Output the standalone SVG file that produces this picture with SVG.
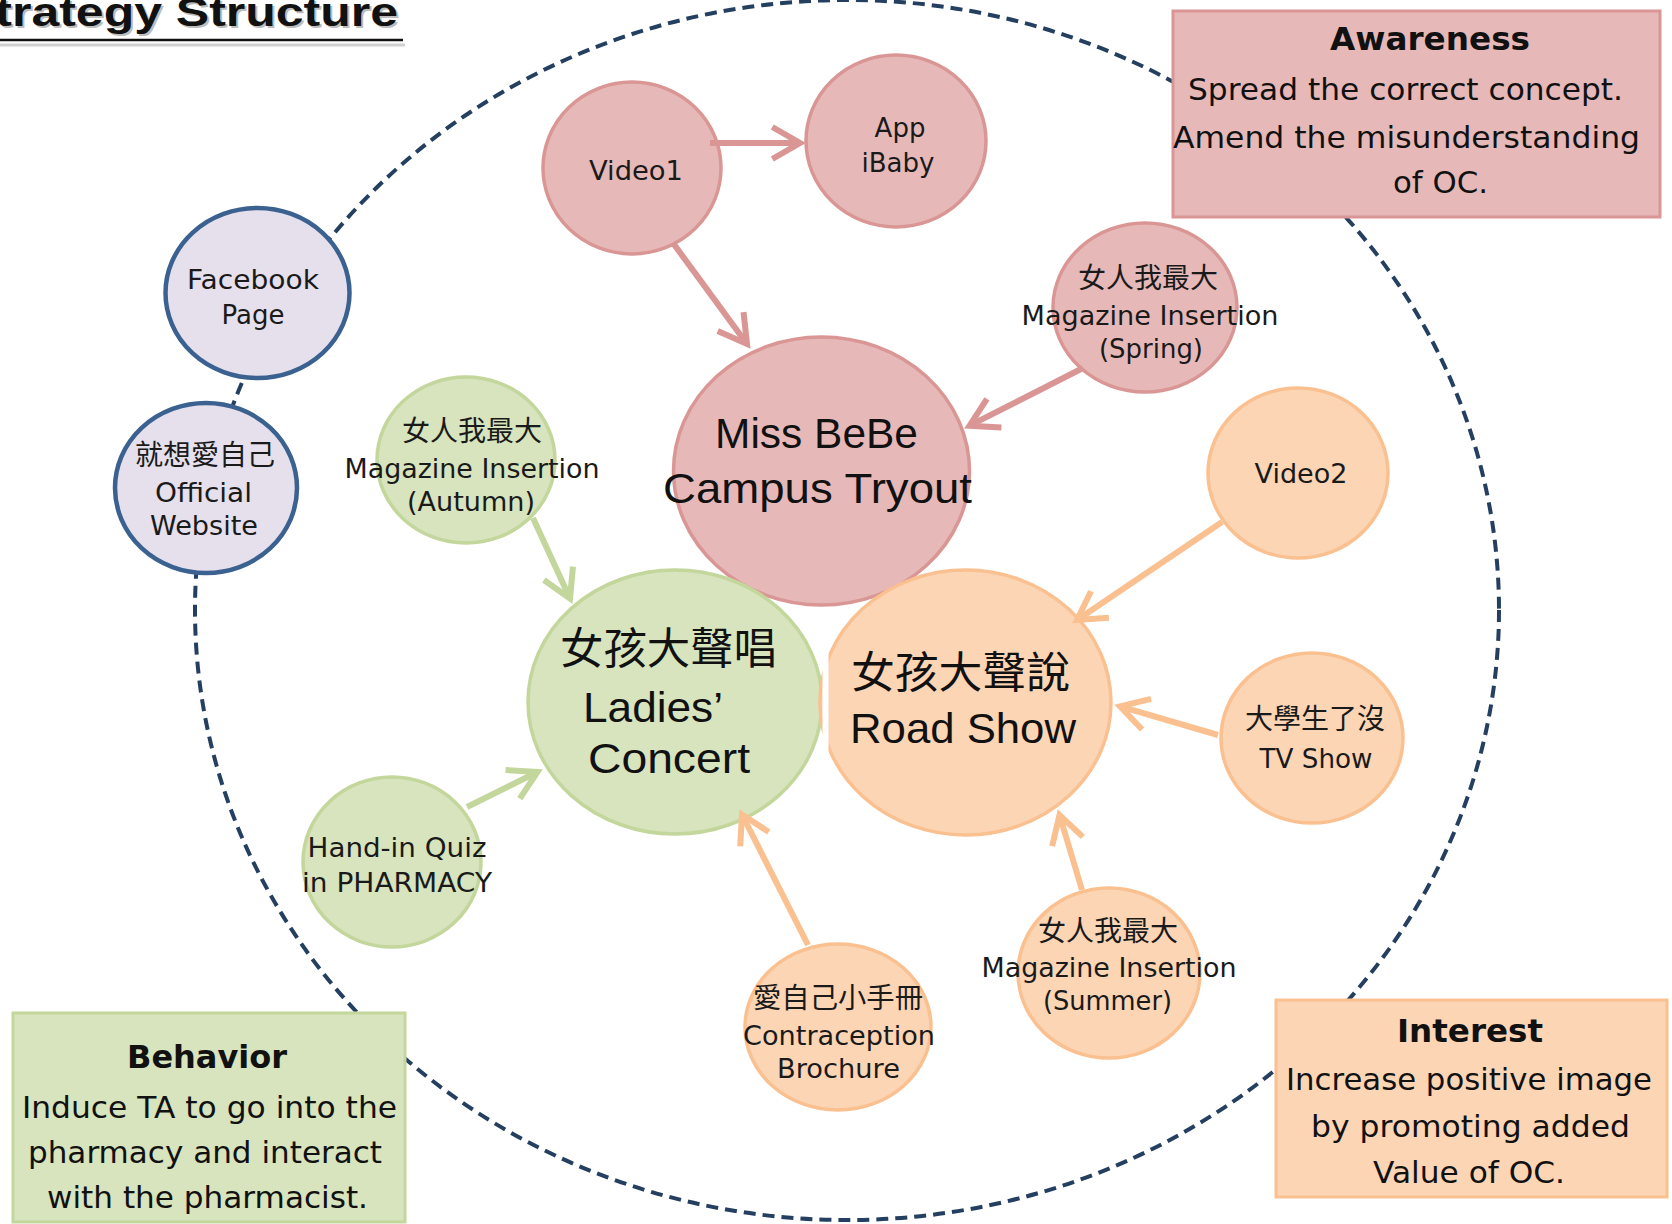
<svg xmlns="http://www.w3.org/2000/svg" width="1672" height="1224" viewBox="0 0 1672 1224">
<style>
.pink{fill:#e6b9b8;stroke:#d99694;stroke-width:3.5}
.green{fill:#d7e4bd;stroke:#c3d69b;stroke-width:3.5}
.orange{fill:#fcd5b5;stroke:#fac090;stroke-width:3.5}
.lav{fill:#e5e0ec;stroke:#3b6191;stroke-width:4.5}
.t{font-family:"DejaVu Sans","Noto Sans CJK TC",sans-serif;font-size:26px;fill:#1a1a1a;text-anchor:middle}
.cjk{font-family:"Noto Sans CJK TC","Noto Sans CJK SC",sans-serif;font-size:28px;fill:#1a1a1a;text-anchor:middle}
.big{font-family:"Liberation Sans","Noto Sans CJK TC",sans-serif;font-size:43px;fill:#111;text-anchor:middle}
.bigcjk{font-family:"Noto Sans CJK TC","Noto Sans CJK SC",sans-serif;font-size:43px;fill:#111;text-anchor:middle}
.bt{font-family:"DejaVu Sans",sans-serif;font-size:32px;font-weight:bold;fill:#111;text-anchor:middle}
.bb{font-family:"DejaVu Sans",sans-serif;font-size:30px;fill:#111;text-anchor:middle}
.cp{fill:none;stroke:#d99694;stroke-width:6}
.cg{fill:none;stroke:#c3d69b;stroke-width:6}
.co{fill:none;stroke:#fac090;stroke-width:6}
</style>
<defs>
<marker id="ap" viewBox="-36 -22 46 44" refX="0" refY="0" markerWidth="46" markerHeight="44" markerUnits="userSpaceOnUse" orient="auto"><path d="M-27.7,-16 L0,0 L-27.7,16" fill="none" stroke="#d99694" stroke-width="6"/></marker>
<marker id="ag" viewBox="-36 -22 46 44" refX="0" refY="0" markerWidth="46" markerHeight="44" markerUnits="userSpaceOnUse" orient="auto"><path d="M-27.7,-16 L0,0 L-27.7,16" fill="none" stroke="#c3d69b" stroke-width="6"/></marker>
<marker id="ao" viewBox="-36 -22 46 44" refX="0" refY="0" markerWidth="46" markerHeight="44" markerUnits="userSpaceOnUse" orient="auto"><path d="M-27.7,-16 L0,0 L-27.7,16" fill="none" stroke="#fac090" stroke-width="6"/></marker>
</defs>
<rect width="1672" height="1224" fill="#ffffff"/>

<g id="title">
<text x="-36" y="28" font-family="Liberation Sans,sans-serif" font-size="40" font-weight="bold" fill="#888" opacity="0.55" textLength="436" lengthAdjust="spacingAndGlyphs">Strategy Structure</text>
<text x="-38" y="26" font-family="Liberation Sans,sans-serif" font-size="40" font-weight="bold" fill="#111" textLength="436" lengthAdjust="spacingAndGlyphs">Strategy Structure</text>
<line x1="0" y1="45" x2="405" y2="45" stroke="#d0d0d0" stroke-width="3"/>
<line x1="0" y1="40" x2="403" y2="40" stroke="#111" stroke-width="2.5"/>
</g>

<g id="funnel-ring">
<ellipse cx="847" cy="610" rx="652" ry="610" fill="none" stroke="#243f60" stroke-width="4" stroke-dasharray="12 7"/>
</g>

<g id="awareness">
<rect x="1173" y="11" width="487" height="206" fill="#e6b9b8" stroke="#d99694" stroke-width="3"/>
<text class="bt" x="1430" y="50" textLength="200" lengthAdjust="spacingAndGlyphs">Awareness</text>
<text class="bb" x="1405.5" y="100" textLength="435" lengthAdjust="spacingAndGlyphs">Spread the correct concept.</text>
<text class="bb" x="1406.5" y="148" textLength="467" lengthAdjust="spacingAndGlyphs">Amend the misunderstanding</text>
<text class="bb" x="1440.5" y="193" textLength="95" lengthAdjust="spacingAndGlyphs">of OC.</text>
</g>

<g id="behavior">
<rect x="13" y="1013" width="392" height="209" fill="#d7e4bd" stroke="#c3d69b" stroke-width="3"/>
<text class="bt" x="207" y="1068" textLength="160" lengthAdjust="spacingAndGlyphs">Behavior</text>
<text class="bb" x="209.5" y="1118" textLength="375" lengthAdjust="spacingAndGlyphs">Induce TA to go into the</text>
<text class="bb" x="205" y="1163" textLength="354" lengthAdjust="spacingAndGlyphs">pharmacy and interact</text>
<text class="bb" x="207.5" y="1208" textLength="321" lengthAdjust="spacingAndGlyphs">with the pharmacist.</text>
</g>

<g id="interest">
<rect x="1276" y="1000" width="391" height="197" fill="#fcd5b5" stroke="#fac090" stroke-width="3"/>
<text class="bt" x="1470" y="1042" textLength="146" lengthAdjust="spacingAndGlyphs">Interest</text>
<text class="bb" x="1469" y="1090" textLength="366" lengthAdjust="spacingAndGlyphs">Increase positive image</text>
<text class="bb" x="1470.5" y="1137" textLength="319" lengthAdjust="spacingAndGlyphs">by promoting added</text>
<text class="bb" x="1469" y="1183" textLength="192" lengthAdjust="spacingAndGlyphs">Value of OC.</text>
</g>

<g id="facebook">
<ellipse class="lav" cx="257.5" cy="293" rx="92" ry="85"/>
<text class="t" x="253" y="289" textLength="132" lengthAdjust="spacingAndGlyphs">Facebook</text>
<text class="t" x="253" y="324">Page</text>
</g>

<g id="website">
<ellipse class="lav" cx="206" cy="488" rx="91" ry="85"/>
<text class="cjk" x="205" y="465" textLength="140" lengthAdjust="spacingAndGlyphs">就想愛自己</text>
<text class="t" x="203.5" y="502" textLength="97" lengthAdjust="spacingAndGlyphs">Official</text>
<text class="t" x="204" y="535" textLength="108" lengthAdjust="spacingAndGlyphs">Website</text>
</g>

<g id="video1">
<ellipse class="pink" cx="632" cy="168" rx="89" ry="86"/>
<text class="t" x="636" y="180" textLength="94" lengthAdjust="spacingAndGlyphs">Video1</text>
</g>

<g id="app-ibaby">
<ellipse class="pink" cx="896" cy="141" rx="90" ry="86"/>
<text class="t" x="900" y="137">App</text>
<text class="t" x="898" y="172" textLength="73" lengthAdjust="spacingAndGlyphs">iBaby</text>
</g>

<g id="magazine-spring">
<ellipse class="pink" cx="1145" cy="307.5" rx="92" ry="84.5"/>
<text class="cjk" x="1148" y="288" textLength="140" lengthAdjust="spacingAndGlyphs">女人我最大</text>
<text class="t" x="1150" y="325" textLength="257" lengthAdjust="spacingAndGlyphs">Magazine Insertion</text>
<text class="t" x="1151" y="358" textLength="104" lengthAdjust="spacingAndGlyphs">(Spring)</text>
</g>

<g id="miss-bebe">
<ellipse class="pink" cx="821.5" cy="471" rx="148" ry="134"/>
<text class="big" x="816.5" y="448" textLength="203" lengthAdjust="spacingAndGlyphs">Miss BeBe</text>
<text class="big" x="817.5" y="503" textLength="309" lengthAdjust="spacingAndGlyphs">Campus Tryout</text>
</g>

<g id="magazine-autumn">
<ellipse class="green" cx="466" cy="460" rx="89" ry="83"/>
<text class="cjk" x="472" y="441" textLength="140" lengthAdjust="spacingAndGlyphs">女人我最大</text>
<text class="t" x="472" y="478" textLength="255" lengthAdjust="spacingAndGlyphs">Magazine Insertion</text>
<text class="t" x="471" y="511" textLength="128" lengthAdjust="spacingAndGlyphs">(Autumn)</text>
</g>

<g id="video2">
<ellipse class="orange" cx="1298" cy="473" rx="90" ry="85"/>
<text class="t" x="1301" y="483" textLength="93" lengthAdjust="spacingAndGlyphs">Video2</text>
</g>

<g id="ladies-concert">
<ellipse class="green" cx="675" cy="702" rx="147" ry="132"/>
<text class="bigcjk" x="668.5" y="664" textLength="217" lengthAdjust="spacingAndGlyphs">女孩大聲唱</text>
<text class="big" x="653" y="722" textLength="140" lengthAdjust="spacingAndGlyphs">Ladies’</text>
<text class="big" x="669" y="773" textLength="162" lengthAdjust="spacingAndGlyphs">Concert</text>
</g>

<g id="road-show">
<ellipse class="orange" cx="965.5" cy="702.5" rx="145.5" ry="132.5"/>
<rect x="822.5" y="640" width="6" height="122" fill="#ffffff"/>
<text class="bigcjk" x="960.5" y="688" textLength="219" lengthAdjust="spacingAndGlyphs">女孩大聲說</text>
<text class="big" x="963" y="743" textLength="226" lengthAdjust="spacingAndGlyphs">Road Show</text>
</g>

<g id="tv-show">
<ellipse class="orange" cx="1312" cy="738" rx="91" ry="85"/>
<text class="cjk" x="1315" y="729" textLength="140" lengthAdjust="spacingAndGlyphs">大學生了沒</text>
<text class="t" x="1316" y="768" textLength="113" lengthAdjust="spacingAndGlyphs">TV Show</text>
</g>

<g id="hand-in-quiz">
<ellipse class="green" cx="392" cy="862" rx="89" ry="85"/>
<text class="t" x="397" y="857" textLength="179" lengthAdjust="spacingAndGlyphs">Hand-in Quiz</text>
<text class="t" x="397" y="892" textLength="190" lengthAdjust="spacingAndGlyphs">in PHARMACY</text>
</g>

<g id="brochure">
<ellipse class="orange" cx="838" cy="1027" rx="93" ry="83"/>
<text class="cjk" x="838" y="1008" textLength="170" lengthAdjust="spacingAndGlyphs">愛自己小手冊</text>
<text class="t" x="839" y="1045" textLength="192" lengthAdjust="spacingAndGlyphs">Contraception</text>
<text class="t" x="838.5" y="1078" textLength="123" lengthAdjust="spacingAndGlyphs">Brochure</text>
</g>

<g id="magazine-summer">
<ellipse class="orange" cx="1109" cy="973" rx="91" ry="85"/>
<text class="cjk" x="1108" y="941" textLength="140" lengthAdjust="spacingAndGlyphs">女人我最大</text>
<text class="t" x="1109" y="977" textLength="255" lengthAdjust="spacingAndGlyphs">Magazine Insertion</text>
<text class="t" x="1107.5" y="1010" textLength="129" lengthAdjust="spacingAndGlyphs">(Summer)</text>
</g>

<g id="connectors">
<line class="cp" x1="710" y1="143" x2="800" y2="143" marker-end="url(#ap)"/>
<line class="cp" x1="673" y1="243" x2="747" y2="344" marker-end="url(#ap)"/>
<line class="cp" x1="1083" y1="368" x2="969.5" y2="425.7" marker-end="url(#ap)"/>
<line class="cg" x1="533" y1="518" x2="570" y2="598.5" marker-end="url(#ag)"/>
<line class="cg" x1="467" y1="807" x2="537.5" y2="772" marker-end="url(#ag)"/>
<line class="co" x1="808" y1="945" x2="742" y2="814.5" marker-end="url(#ao)"/>
<line class="co" x1="1082" y1="890" x2="1059.5" y2="815" marker-end="url(#ao)"/>
<line class="co" x1="1218" y1="735" x2="1120" y2="706.4" marker-end="url(#ao)"/>
<line class="co" x1="1222" y1="522" x2="1077" y2="620" marker-end="url(#ao)"/>
</g>
</svg>
